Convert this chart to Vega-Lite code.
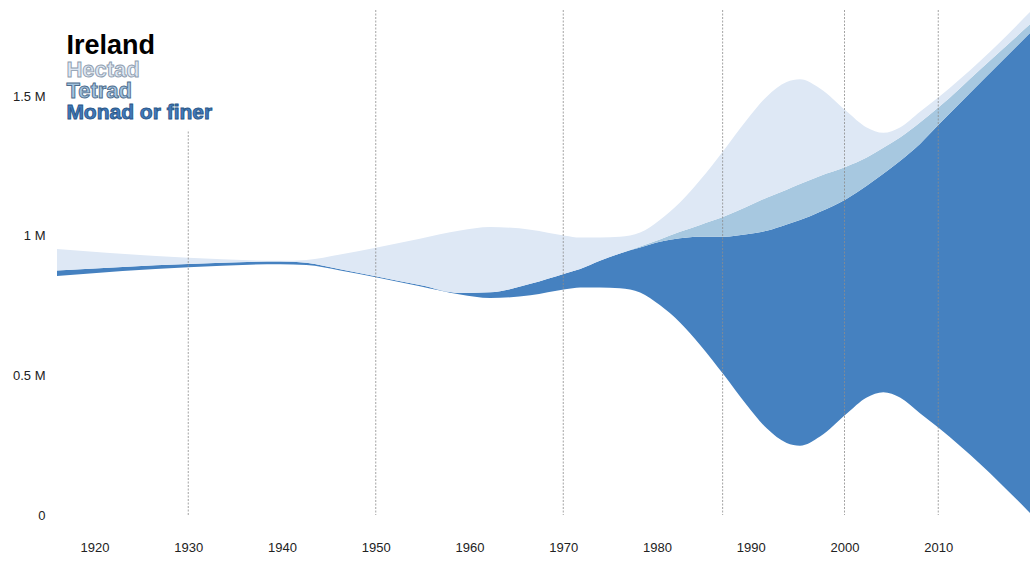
{
  "$schema": "https://vega.github.io/schema/vega-lite/v6.json",
  "autosize": {"type": "none"},
  "padding": {"left": 57, "top": 10, "right": 0, "bottom": 47},
  "width": 975,
  "height": 505,
  "background": "white",
  "config": {
    "view": {"stroke": null},
    "font": "Liberation Sans",
    "axis": {"grid": false, "domain": false, "ticks": false, "labelFont": "Liberation Sans", "labelFontSize": 13, "labelColor": "#222222", "title": null}
  },
  "datasets": {
    "coverage": [
      {"year": 1916.0, "series": "Monad or finer", "level": 1, "squares": 19000},
      {"year": 1916.0, "series": "Tetrad", "level": 2, "squares": 0},
      {"year": 1916.0, "series": "Hectad", "level": 3, "squares": 77000},
      {"year": 1930.0, "series": "Monad or finer", "level": 1, "squares": 12000},
      {"year": 1930.0, "series": "Tetrad", "level": 2, "squares": 0},
      {"year": 1930.0, "series": "Hectad", "level": 3, "squares": 22000},
      {"year": 1939.8, "series": "Monad or finer", "level": 1, "squares": 10000},
      {"year": 1939.8, "series": "Tetrad", "level": 2, "squares": 0},
      {"year": 1939.8, "series": "Hectad", "level": 3, "squares": 2000},
      {"year": 1942.6, "series": "Monad or finer", "level": 1, "squares": 8000},
      {"year": 1942.6, "series": "Tetrad", "level": 2, "squares": 0},
      {"year": 1942.6, "series": "Hectad", "level": 3, "squares": 10000},
      {"year": 1946.2, "series": "Monad or finer", "level": 1, "squares": 4000},
      {"year": 1946.2, "series": "Tetrad", "level": 2, "squares": 0},
      {"year": 1946.2, "series": "Hectad", "level": 3, "squares": 53000},
      {"year": 1950.0, "series": "Monad or finer", "level": 1, "squares": 4000},
      {"year": 1950.0, "series": "Tetrad", "level": 2, "squares": 0},
      {"year": 1950.0, "series": "Hectad", "level": 3, "squares": 102000},
      {"year": 1954.7, "series": "Monad or finer", "level": 1, "squares": 4000},
      {"year": 1954.7, "series": "Tetrad", "level": 2, "squares": 0},
      {"year": 1954.7, "series": "Hectad", "level": 3, "squares": 166000},
      {"year": 1959.0, "series": "Monad or finer", "level": 1, "squares": 5000},
      {"year": 1959.0, "series": "Tetrad", "level": 2, "squares": 0},
      {"year": 1959.0, "series": "Hectad", "level": 3, "squares": 224000},
      {"year": 1962.2, "series": "Monad or finer", "level": 1, "squares": 20000},
      {"year": 1962.2, "series": "Tetrad", "level": 2, "squares": 0},
      {"year": 1962.2, "series": "Hectad", "level": 3, "squares": 234000},
      {"year": 1966.5, "series": "Monad or finer", "level": 1, "squares": 41000},
      {"year": 1966.5, "series": "Tetrad", "level": 2, "squares": 0},
      {"year": 1966.5, "series": "Hectad", "level": 3, "squares": 194000},
      {"year": 1970.2, "series": "Monad or finer", "level": 1, "squares": 57000},
      {"year": 1970.2, "series": "Tetrad", "level": 2, "squares": 0},
      {"year": 1970.2, "series": "Hectad", "level": 3, "squares": 135000},
      {"year": 1971.8, "series": "Monad or finer", "level": 1, "squares": 66000},
      {"year": 1971.8, "series": "Tetrad", "level": 2, "squares": 0},
      {"year": 1971.8, "series": "Hectad", "level": 3, "squares": 113000},
      {"year": 1973.9, "series": "Monad or finer", "level": 1, "squares": 96000},
      {"year": 1973.9, "series": "Tetrad", "level": 2, "squares": 0},
      {"year": 1973.9, "series": "Hectad", "level": 3, "squares": 84000},
      {"year": 1976.05, "series": "Monad or finer", "level": 1, "squares": 125000},
      {"year": 1976.05, "series": "Tetrad", "level": 2, "squares": 0},
      {"year": 1976.05, "series": "Hectad", "level": 3, "squares": 60000},
      {"year": 1978.2, "series": "Monad or finer", "level": 1, "squares": 161000},
      {"year": 1978.2, "series": "Tetrad", "level": 2, "squares": 3600},
      {"year": 1978.2, "series": "Hectad", "level": 3, "squares": 50000},
      {"year": 1980.3, "series": "Monad or finer", "level": 1, "squares": 227000},
      {"year": 1980.3, "series": "Tetrad", "level": 2, "squares": 8000},
      {"year": 1980.3, "series": "Hectad", "level": 3, "squares": 70000},
      {"year": 1982.45, "series": "Monad or finer", "level": 1, "squares": 302000},
      {"year": 1982.45, "series": "Tetrad", "level": 2, "squares": 22600},
      {"year": 1982.45, "series": "Hectad", "level": 3, "squares": 105000},
      {"year": 1984.6, "series": "Monad or finer", "level": 1, "squares": 388000},
      {"year": 1984.6, "series": "Tetrad", "level": 2, "squares": 42000},
      {"year": 1984.6, "series": "Hectad", "level": 3, "squares": 161000},
      {"year": 1987.15, "series": "Monad or finer", "level": 1, "squares": 496000},
      {"year": 1987.15, "series": "Tetrad", "level": 2, "squares": 72000},
      {"year": 1987.15, "series": "Hectad", "level": 3, "squares": 239000},
      {"year": 1989.57, "series": "Monad or finer", "level": 1, "squares": 612000},
      {"year": 1989.57, "series": "Tetrad", "level": 2, "squares": 99000},
      {"year": 1989.57, "series": "Hectad", "level": 3, "squares": 311000},
      {"year": 1991.7, "series": "Monad or finer", "level": 1, "squares": 708000},
      {"year": 1991.7, "series": "Tetrad", "level": 2, "squares": 119000},
      {"year": 1991.7, "series": "Hectad", "level": 3, "squares": 362000},
      {"year": 1993.83, "series": "Monad or finer", "level": 1, "squares": 783000},
      {"year": 1993.83, "series": "Tetrad", "level": 2, "squares": 125000},
      {"year": 1993.83, "series": "Hectad", "level": 3, "squares": 386000},
      {"year": 1995.25, "series": "Monad or finer", "level": 1, "squares": 809000},
      {"year": 1995.25, "series": "Tetrad", "level": 2, "squares": 129000},
      {"year": 1995.25, "series": "Hectad", "level": 3, "squares": 376000},
      {"year": 1997.39, "series": "Monad or finer", "level": 1, "squares": 806000},
      {"year": 1997.39, "series": "Tetrad", "level": 2, "squares": 128000},
      {"year": 1997.39, "series": "Hectad", "level": 3, "squares": 314000},
      {"year": 2000.16, "series": "Monad or finer", "level": 1, "squares": 771000},
      {"year": 2000.16, "series": "Tetrad", "level": 2, "squares": 116000},
      {"year": 2000.16, "series": "Hectad", "level": 3, "squares": 201000},
      {"year": 2002.37, "series": "Monad or finer", "level": 1, "squares": 759000},
      {"year": 2002.37, "series": "Tetrad", "level": 2, "squares": 101000},
      {"year": 2002.37, "series": "Hectad", "level": 3, "squares": 108000},
      {"year": 2004.14, "series": "Monad or finer", "level": 1, "squares": 783000},
      {"year": 2004.14, "series": "Tetrad", "level": 2, "squares": 93000},
      {"year": 2004.14, "series": "Hectad", "level": 3, "squares": 54000},
      {"year": 2005.92, "series": "Monad or finer", "level": 1, "squares": 848000},
      {"year": 2005.92, "series": "Tetrad", "level": 2, "squares": 84000},
      {"year": 2005.92, "series": "Hectad", "level": 3, "squares": 36000},
      {"year": 2008.05, "series": "Monad or finer", "level": 1, "squares": 965000},
      {"year": 2008.05, "series": "Tetrad", "level": 2, "squares": 77000},
      {"year": 2008.05, "series": "Hectad", "level": 3, "squares": 38000},
      {"year": 2010.1, "series": "Monad or finer", "level": 1, "squares": 1090000},
      {"year": 2010.1, "series": "Tetrad", "level": 2, "squares": 62000},
      {"year": 2010.1, "series": "Hectad", "level": 3, "squares": 36000},
      {"year": 2014.5, "series": "Monad or finer", "level": 1, "squares": 1368000},
      {"year": 2014.5, "series": "Tetrad", "level": 2, "squares": 48000},
      {"year": 2014.5, "series": "Hectad", "level": 3, "squares": 30000},
      {"year": 2020.0, "series": "Monad or finer", "level": 1, "squares": 1735000},
      {"year": 2020.0, "series": "Tetrad", "level": 2, "squares": 30000},
      {"year": 2020.0, "series": "Hectad", "level": 3, "squares": 45000}
    ],
    "events": [
      {"year": 1950},
      {"year": 1970},
      {"year": 1987},
      {"year": 2000},
      {"year": 2010}
    ]
  },
  "layer": [
    {
      "data": {"name": "coverage"},
      "mark": {"type": "area", "interpolate": "monotone", "clip": true},
      "encoding": {
        "x": {
          "field": "year", "type": "quantitative",
          "scale": {"domain": [1916, 2020], "nice": false, "zero": false},
          "axis": {"values": [1920, 1930, 1940, 1950, 1960, 1970, 1980, 1990, 2000, 2010], "format": "d", "labelPadding": 26}
        },
        "y": {
          "field": "squares", "type": "quantitative", "stack": "center",
          "scale": {"domain": [0, 1810000], "nice": false},
          "axis": {"values": [0, 500000, 1000000, 1500000], "labelExpr": "datum.value == 0 ? '0' : (datum.value / 1000000) + ' M'", "labelPadding": 12}
        },
        "color": {
          "field": "series", "type": "nominal",
          "scale": {"domain": ["Hectad", "Tetrad", "Monad or finer"], "range": ["#dee8f5", "#a7c8e0", "#4581c0"]},
          "legend": null
        },
        "order": {"field": "level", "type": "quantitative", "sort": "ascending"}
      }
    },
    {
      "data": {"name": "events"},
      "mark": {"type": "rule", "color": "#8c8c8c", "strokeWidth": 1, "strokeDash": [2, 1.5], "opacity": 0.8},
      "encoding": {
        "x": {"field": "year", "type": "quantitative"}
      }
    },
    {
      "data": {"values": [{}]},
      "mark": {"type": "rule", "color": "#8c8c8c", "strokeWidth": 1, "strokeDash": [2, 1.5], "opacity": 0.8},
      "encoding": {
        "x": {"datum": 1930, "type": "quantitative"},
        "y": {"datum": 0, "type": "quantitative"},
        "y2": {"datum": 1380000}
      }
    },
    {
      "data": {"values": [{}]},
      "mark": {"type": "text", "align": "left", "baseline": "alphabetic", "font": "Liberation Sans", "fontSize": 27, "fontWeight": "bold", "color": "#000000"},
      "encoding": {
        "x": {"datum": 1917, "type": "quantitative"},
        "y": {"datum": 1652000, "type": "quantitative"},
        "text": {"value": "Ireland"}
      }
    },
    {
      "data": {"values": [{}]},
      "mark": {"type": "text", "align": "left", "baseline": "alphabetic", "font": "Liberation Sans", "fontSize": 22, "fontWeight": "bold", "fill": "#dde7f3", "stroke": "#8d9cae", "strokeWidth": 0.9},
      "encoding": {
        "x": {"datum": 1917, "type": "quantitative"},
        "y": {"datum": 1571000, "type": "quantitative"},
        "text": {"value": "Hectad"}
      }
    },
    {
      "data": {"values": [{}]},
      "mark": {"type": "text", "align": "left", "baseline": "alphabetic", "font": "Liberation Sans", "fontSize": 22, "fontWeight": "bold", "fill": "#a3c3de", "stroke": "#4d6c8c", "strokeWidth": 0.9},
      "encoding": {
        "x": {"datum": 1917, "type": "quantitative"},
        "y": {"datum": 1493000, "type": "quantitative"},
        "text": {"value": "Tetrad"}
      }
    },
    {
      "data": {"values": [{}]},
      "mark": {"type": "text", "align": "left", "baseline": "alphabetic", "font": "Liberation Sans", "fontSize": 21, "fontWeight": "bold", "fill": "#3f7bbd", "stroke": "#2a5585", "strokeWidth": 0.9},
      "encoding": {
        "x": {"datum": 1917, "type": "quantitative"},
        "y": {"datum": 1421000, "type": "quantitative"},
        "text": {"value": "Monad or finer"}
      }
    }
  ]
}
